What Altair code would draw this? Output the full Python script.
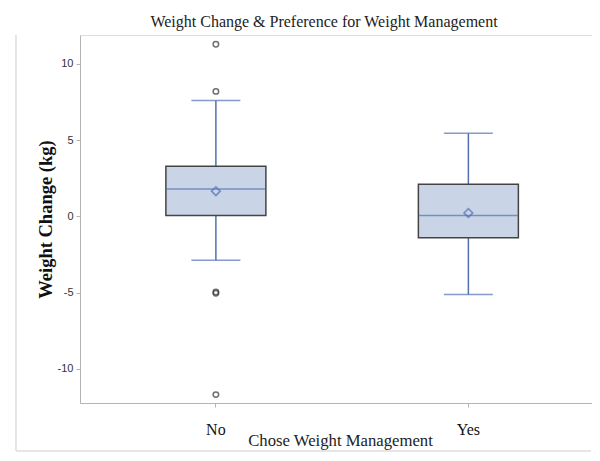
import altair as alt
import pandas as pd

groups = ["No", "Yes"]
q1 = [0.05, -1.40]
median = [1.80, 0.05]
q3 = [3.28, 2.10]
mean = [1.65, 0.22]
whisk_lo = [-2.88, -5.13]
whisk_hi = [7.60, 5.45]

out_group = ["No", "No", "No", "No", "No"]
out_value = [11.3, 8.2, -4.97, -5.05, -11.7]

stats = pd.DataFrame({"group": groups, "q1": q1, "median": median, "q3": q3,
                      "mean": mean, "lo": whisk_lo, "hi": whisk_hi})
outl = pd.DataFrame({"group": out_group, "value": out_value})

BLUE = "#5270b2"
FILL = "#C9D5E6"
GRAY = "#b4b4b4"

yscale = alt.Scale(domain=[-12.25, 11.9], nice=False, zero=False)
xscale = alt.Scale(type="band", domain=groups, paddingInner=0.1, paddingOuter=0.0639, align=0.69)

x_enc = alt.X("group:N", scale=xscale, sort=groups,
              axis=alt.Axis(title="Chose Weight Management", labelAngle=0,
                            labelFont="Liberation Serif", labelFontSize=16, labelColor="#111",
                            labelBaseline="middle", labelPadding=22, tickSize=4,
                            tickColor=GRAY, domainColor=GRAY,
                            titleFont="Liberation Serif", titleFontSize=16.7, titleFontWeight="normal",
                            titleColor="#222", titleBaseline="middle", titleY=37,
                            titleX=260, titleAlign="center"))

y_axis = alt.Axis(title="Weight Change (kg)", values=[-10, -5, 0, 5, 10], grid=False,
                  labelExpr="replace(datum.label, '\u2212', '-')",
                  labelFont="Liberation Sans", labelFontSize=11, labelColor="#333",
                  tickSize=4, labelPadding=3, tickColor=GRAY, domainColor=GRAY,
                  titleFont="Liberation Serif", titleFontSize=18.5, titleFontWeight="bold",
                  titleColor="#111", titleX=-35, titleBaseline="middle", titleAnchor="middle")

base = alt.Chart(stats)

whisk_low = base.mark_rule(color=BLUE, strokeWidth=1.5).encode(
    x=x_enc, y=alt.Y("lo:Q", scale=yscale, axis=y_axis), y2="q1:Q")
whisk_high = base.mark_rule(color=BLUE, strokeWidth=1.5).encode(
    x=x_enc, y=alt.Y("q3:Q", scale=yscale), y2="hi:Q")
box = base.mark_bar(size=100, fill=FILL, stroke="#444444", strokeWidth=1.5).encode(
    x=x_enc, y=alt.Y("q1:Q", scale=yscale), y2="q3:Q")
cap_lo = base.mark_tick(size=49, thickness=1.5, color=BLUE, orient="horizontal").encode(
    x=x_enc, y=alt.Y("lo:Q", scale=yscale))
cap_hi = base.mark_tick(size=49, thickness=1.5, color=BLUE, orient="horizontal").encode(
    x=x_enc, y=alt.Y("hi:Q", scale=yscale))
med = base.mark_tick(size=99, thickness=1.5, color=BLUE, orient="horizontal").encode(
    x=x_enc, y=alt.Y("median:Q", scale=yscale))
mean_pt = base.mark_point(shape="diamond", filled=False, color=BLUE, size=75, strokeWidth=1.7).encode(
    x=x_enc, y=alt.Y("mean:Q", scale=yscale))
outliers = alt.Chart(outl).mark_point(shape="circle", filled=False, color="#333", size=30,
                                      strokeWidth=1.5).encode(
    x=x_enc, y=alt.Y("value:Q", scale=yscale))

# faint outer frame of the original figure
frame_left = alt.Chart(stats).mark_rule(color="#dddddd", strokeWidth=1).encode(
    x=alt.value(-64), y=alt.value(0), y2=alt.value(416))
frame_bottom = alt.Chart(stats).mark_rule(color="#dddddd", strokeWidth=1).encode(
    x=alt.value(-64), x2=alt.value(511), y=alt.value(416))

chart = alt.layer(
    frame_left, frame_bottom,
    whisk_low, whisk_high, box, cap_lo, cap_hi, med, mean_pt, outliers
).properties(
    width=512, height=368,
    title=alt.TitleParams("Weight Change & Preference for Weight Management",
                          font="Liberation Serif", fontSize=16, fontWeight="normal",
                          color="#222", anchor="middle",
                          baseline="middle", offset=-3, dx=-12),
    autosize=alt.AutoSizeParams(type="none"),
    padding={"left": 72, "top": 27, "right": 0, "bottom": 49},
).configure_view(stroke=GRAY, strokeWidth=1).configure(background="white")

chart.save("out.html", embed_options={"renderer": "svg", "actions": False})
